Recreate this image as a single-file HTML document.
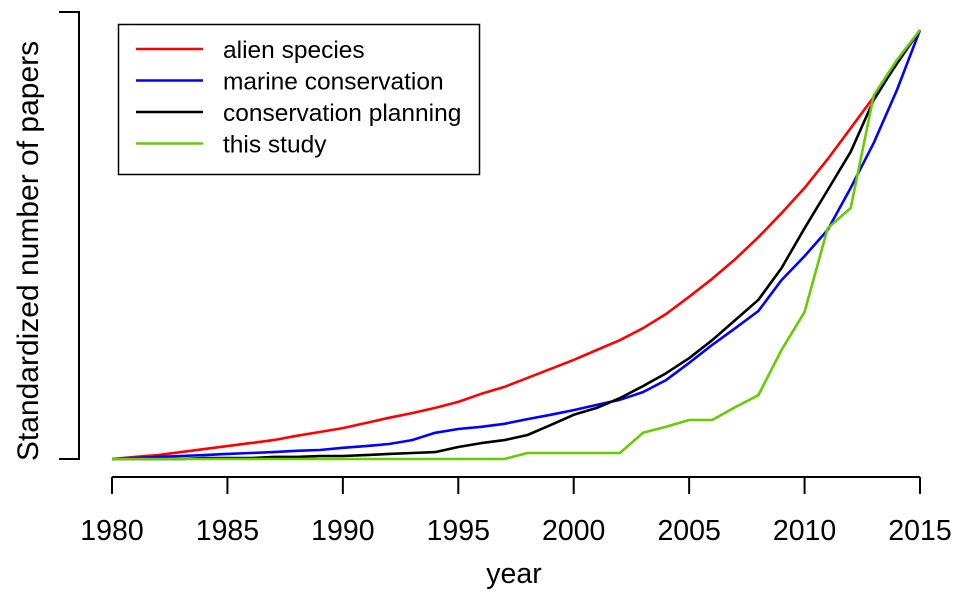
<!DOCTYPE html>
<html><head><meta charset="utf-8"><style>
body{margin:0;background:#fff}
svg{display:block;font-family:"Liberation Sans",Arial,sans-serif}
</style></head><body>
<svg id="chart" width="961" height="593" viewBox="0 0 961 593"></svg>
<script>
const years=[];for(let y=1980;y<=2015;y++)years.push(y);
const xTicks=[1980,1985,1990,1995,2000,2005,2010,2015];
const seriesNames=["alien species","marine conservation","conservation planning","this study"];
const seriesColors=["#ff0000","#0000ff","#000000","#66cc00"];
const alien=[0,.005,.009,.016,.023,.030,.037,.044,.054,.063,.072,.084,.096,.107,.119,.133,.152,.168,.189,.210,.231,.254,.277,.305,.338,.378,.420,.466,.517,.573,.632,.699,.771,.844,.921,1];
const marine=[0,.002,.005,.007,.009,.012,.014,.016,.019,.021,.026,.030,.035,.044,.061,.070,.075,.082,.093,.103,.114,.126,.138,.156,.184,.224,.266,.305,.345,.417,.473,.534,.632,.737,.860,1];
const planning=[0,0,0,0,.002,.002,.002,.005,.005,.007,.007,.009,.012,.014,.016,.028,.037,.044,.056,.079,.103,.119,.142,.170,.200,.235,.277,.324,.371,.445,.538,.627,.716,.837,.923,1];
const study=[0,0,0,0,0,0,0,0,0,0,0,0,0,0,0,0,0,0,.014,.014,.014,.014,.014,.061,.075,.091,.091,.121,.149,.254,.343,.538,.585,.848,.930,1];
const allSeries=[alien,marine,planning,study];

const NS="http://www.w3.org/2000/svg";
const svg=document.getElementById('chart');
const xS=v=>112+(v-1980)*(808/35);
const yS=v=>459-v*429;
function mk(t,a){const e=document.createElementNS(NS,t);for(const k in a)e.setAttribute(k,a[k]);svg.appendChild(e);return e;}

let e=mk('path',{d:'M59 12H79V459H59',fill:'none',stroke:'#000','stroke-width':2});


e=mk('text',{x:0,y:0,'font-size':30,'text-anchor':'middle',transform:'translate(38,251) rotate(-90)'});
e.textContent='Standardized number of papers';


e=mk('line',{x1:xS(1980),x2:xS(2015),y1:477,y2:477,stroke:'#000','stroke-width':2});


xTicks.forEach(t=>{
  let l=mk('line',{x1:xS(t),x2:xS(t),y1:477,y2:494,stroke:'#000','stroke-width':2});
  
  
  let tx=mk('text',{x:xS(t),y:540,'font-size':28.5,'text-anchor':'middle'});
  tx.textContent=t;
  
  
});
e=mk('text',{x:514,y:583,'font-size':28.5,'text-anchor':'middle'});
e.textContent='year';


allSeries.forEach((s,i)=>{
  const d=s.map((v,j)=>(j?'L':'M')+xS(years[j]).toFixed(1)+' '+yS(v).toFixed(1)).join('');
  const p=mk('path',{d:d,fill:'none',stroke:seriesColors[i],'stroke-width':2.6,'stroke-linejoin':'round'});
  
  
});
e=mk('rect',{x:118.5,y:24.5,width:361,height:150,fill:'#fff',stroke:'#000','stroke-width':1.5});


seriesNames.forEach((n,i)=>{
  const y=49+i*31.5;
  let l=mk('line',{x1:136,x2:203,y1:y,y2:y,stroke:seriesColors[i],'stroke-width':2.6});
  
  
  let t=mk('text',{x:223,y:y+9,'font-size':24.5});
  t.textContent=n;
  
  
});
</script>
</body></html>
